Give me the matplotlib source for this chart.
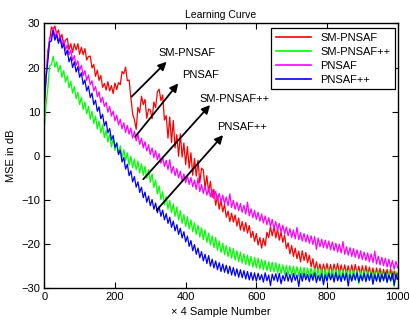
import numpy as np
import matplotlib
matplotlib.use("Agg")
import matplotlib.pyplot as plt

plt.rcParams['font.family'] = ['Liberation Sans', 'DejaVu Sans']

# sample index (x 4 samples), one value every 5
muestras = np.arange(0, 1001, 5)

sm_pnsaf = [
    10, 17.5, 23.8, 25.9, 29.2, 28.6, 29.4, 27.6, 28.5, 26.4,
    27.5, 25.1, 26.2, 26.6, 24.1, 25.4, 23.4, 25.4, 24.0, 25.4,
    23.0, 24.6, 22.9, 24.3, 21.7, 22.5, 22.6, 19.9, 20.7, 18.0,
    19.4, 17.1, 18.2, 15.5, 16.4, 14.9, 16.8, 14.7, 15.9, 14.1,
    16.5, 15.0, 16.6, 16.1, 19.1, 18.6, 20.1, 17.0, 17.2, 13.2,
    9.5, 8.2, 6.0, 11.0, 9.8, 13.5, 11.6, 12.8, 8.5, 10.6,
    10.4, 8.4, 12.2, 10.9, 14.5, 15.1, 12.5, 13.8, 8.1, 9.1,
    4.0, 8.8, 3.0, 8.0, 1.8, 4.8, -0.1, 5.0, -0.3, 2.9,
    -2.0, 2.1, -2.8, 0.7, -4.4, -0.6, -4.6, -1.0, -6.1, -2.8,
    -3.2, -7.4, -4.5, -8.2, -5.8, -9.4, -7.6, -11.2, -9.1, -12.1,
    -10.1, -12.7, -11.0, -13.9, -12.5, -14.9, -13.0, -15.0, -13.4, -15.9,
    -14.1, -16.8, -14.9, -17.1, -15.1, -17.5, -15.8, -18.5, -17.1, -19.4,
    -17.6, -20.2, -18.5, -20.9, -18.7, -20.4, -17.3, -18.5, -16.1, -18.1,
    -16.0, -18.6, -16.6, -19.1, -17.3, -19.6, -18.0, -21.0, -19.7, -22.2,
    -20.3, -22.8, -20.9, -23.3, -21.6, -24.0, -21.5, -23.7, -21.9, -24.2,
    -22.5, -25.1, -23.3, -25.9, -24.0, -26.2, -24.5, -26.6, -24.5, -26.3,
    -24.4, -26.5, -24.6, -26.7, -24.5, -26.3, -24.4, -26.7, -24.7, -26.6,
    -24.7, -26.8, -24.9, -26.9, -24.7, -26.7, -24.6, -26.8, -25.0, -27.0,
    -24.9, -27.0, -24.9, -27.1, -25.2, -27.3, -25.4, -27.6, -25.4, -27.2,
    -25.5, -27.7, -25.7, -27.7, -25.7, -27.7, -25.6, -27.9, -26.1, -28.0,
    -26.6,
]

sm_pnsaf_pp = [
    6, 11.6, 15.3, 20.4, 20.6, 22.6, 20.1, 21.3, 19.0, 20.5,
    17.8, 19.3, 16.7, 18.1, 15.4, 16.9, 14.2, 15.7, 12.9, 14.4,
    11.6, 13.3, 10.5, 12.2, 9.5, 11.2, 8.3, 10.1, 7.3, 9.0,
    6.1, 7.9, 5.2, 7.0, 4.1, 5.9, 3.1, 4.9, 2.0, 3.9,
    1.2, 3.0, 0.3, 2.3, -0.5, 1.4, -1.2, 0.7, -2.1, -0.1,
    -2.7, -0.7, -3.2, -1.2, -3.9, -1.8, -4.4, -2.4, -5.1, -3.1,
    -6.0, -4.1, -7.2, -5.5, -8.6, -6.8, -9.9, -8.1, -11.1, -9.2,
    -12.1, -10.1, -12.9, -10.9, -13.7, -11.6, -14.5, -12.4, -15.3, -13.3,
    -16.0, -13.8, -16.6, -14.5, -17.2, -15.1, -17.8, -15.7, -18.4, -16.3,
    -19.0, -16.8, -19.6, -17.5, -20.2, -18.1, -20.8, -18.5, -21.4, -19.3,
    -21.9, -19.8, -22.4, -20.3, -22.8, -20.7, -23.2, -21.0, -23.6, -21.5,
    -24.0, -21.8, -24.3, -22.2, -24.6, -22.5, -24.9, -22.8, -25.2, -23.0,
    -25.4, -23.2, -25.6, -23.5, -25.8, -23.7, -26.0, -24.0, -26.2, -24.1,
    -26.3, -24.2, -26.5, -24.5, -26.7, -24.7, -26.9, -24.8, -27.0, -24.9,
    -27.0, -25.0, -27.1, -25.1, -27.3, -25.2, -27.4, -25.3, -27.5, -25.4,
    -27.4, -25.4, -27.6, -25.5, -27.7, -25.5, -27.8, -25.6, -28.6, -25.6,
    -27.7, -25.6, -27.8, -25.7, -27.9, -25.7, -28.0, -25.8, -28.0, -25.8,
    -28.0, -25.8, -28.1, -25.9, -28.1, -25.9, -28.2, -25.9, -29.0, -26.0,
    -28.1, -26.0, -28.2, -26.0, -28.2, -26.0, -28.3, -26.1, -28.3, -26.1,
    -28.3, -26.1, -28.4, -26.1, -28.4, -26.2, -28.5, -26.2, -29.6, -26.2,
    -27.5,
]

pnsaf = [
    12, 18.6, 22.5, 26.8, 27.0, 29.1, 27.0, 28.0, 26.0, 27.2,
    25.0, 26.2, 24.0, 25.1, 22.9, 23.9, 21.6, 22.7, 20.5, 21.5,
    19.4, 20.5, 18.2, 19.3, 17.1, 18.3, 16.1, 17.0, 14.7, 15.7,
    13.4, 14.5, 12.1, 13.3, 11.2, 12.1, 9.9, 11.2, 9.0, 10.1,
    7.9, 9.2, 7.0, 8.3, 6.1, 7.5, 5.3, 6.9, 4.9, 6.3,
    4.0, 5.6, 3.4, 4.8, 2.6, 4.0, 1.8, 3.2, 1.1, 2.5,
    0.3, 1.8, -0.4, 1.2, -0.9, 0.5, -1.7, -0.3, -2.4, -1.0,
    -3.1, -0.9, -3.9, -2.4, -4.5, -2.9, -5.0, -3.5, -5.6, -4.1,
    -6.1, -4.5, -6.5, -4.9, -7.0, -5.5, -7.6, -5.0, -8.1, -6.5,
    -8.5, -6.9, -8.9, -7.3, -9.3, -7.7, -9.7, -8.1, -10.1, -8.5,
    -10.5, -8.9, -10.9, -9.3, -11.3, -8.6, -11.7, -10.1, -12.1, -10.5,
    -12.4, -10.8, -12.8, -11.2, -13.2, -10.5, -13.6, -12.0, -14.0, -12.4,
    -14.4, -12.8, -14.8, -13.2, -15.2, -13.6, -15.6, -14.0, -16.0, -14.4,
    -16.5, -14.9, -16.9, -15.3, -17.3, -15.7, -17.7, -16.1, -18.1, -16.5,
    -18.5, -16.8, -18.8, -16.2, -19.0, -17.4, -19.3, -17.6, -19.5, -17.9,
    -19.8, -18.1, -20.1, -18.3, -21.2, -18.6, -20.6, -18.9, -20.8, -19.1,
    -21.0, -19.3, -21.3, -19.5, -21.5, -19.8, -21.8, -20.0, -22.0, -19.4,
    -22.3, -20.6, -22.5, -20.8, -22.8, -21.0, -23.0, -21.3, -23.3, -21.5,
    -23.5, -21.8, -23.7, -22.0, -24.0, -22.2, -24.2, -21.6, -24.5, -22.7,
    -24.7, -23.0, -24.9, -23.2, -25.2, -23.4, -25.4, -23.7, -25.7, -23.9,
    -25.3,
]

pnsaf_pp = [
    12, 17.6, 21.3, 25.8, 26.0, 28.4, 26.2, 27.4, 25.5, 26.7,
    24.4, 25.3, 22.8, 23.9, 21.3, 22.4, 20.0, 21.3, 19.0, 20.2,
    17.8, 18.8, 16.2, 17.2, 14.7, 15.8, 13.2, 14.2, 11.6, 12.6,
    10.1, 11.1, 8.4, 9.4, 6.8, 7.8, 5.2, 6.2, 3.6, 4.6,
    1.9, 2.9, 0.3, 1.3, -1.4, -0.4, -3.0, -1.9, -4.5, -3.4,
    -5.9, -4.7, -7.1, -5.9, -8.3, -7.1, -9.5, -8.2, -10.5, -9.1,
    -11.3, -9.9, -12.1, -10.7, -12.9, -11.5, -13.7, -12.3, -14.5, -13.1,
    -15.3, -13.9, -16.2, -14.8, -17.0, -15.6, -17.8, -16.4, -18.6, -17.2,
    -19.5, -18.2, -20.5, -19.2, -21.5, -20.1, -22.3, -20.9, -23.1, -21.7,
    -23.8, -22.3, -24.4, -22.6, -25.0, -23.4, -25.4, -23.8, -25.8, -24.2,
    -26.2, -24.5, -26.4, -24.8, -26.7, -25.0, -27.0, -25.3, -27.2, -25.6,
    -27.5, -25.8, -27.6, -26.0, -27.9, -26.2, -28.1, -26.4, -28.2, -26.5,
    -28.4, -26.6, -28.1, -26.9, -28.6, -26.5, -28.3, -27.0, -29.4, -26.8,
    -28.2, -26.7, -28.5, -26.6, -29.0, -27.1, -28.3, -26.5, -28.4, -26.9,
    -28.6, -26.6, -28.2, -27.0, -29.6, -26.7, -28.4, -26.6, -28.1, -26.9,
    -28.5, -26.8, -28.2, -26.5, -28.7, -27.1, -28.3, -26.7, -29.2, -26.9,
    -28.4, -26.6, -28.1, -26.8, -28.6, -26.5, -28.3, -27.0, -28.5, -26.7,
    -28.2, -26.6, -29.5, -26.9, -28.4, -26.7, -28.1, -26.5, -28.6, -27.0,
    -28.3, -26.6, -28.5, -26.8, -28.2, -26.6, -29.1, -26.9, -28.4, -26.7,
    -28.6, -26.8, -28.2, -26.5, -28.7, -27.0, -28.3, -26.6, -29.3, -26.8,
    -28.0,
]

# arrow annotations: label, label position, arrow tail, arrow head
etiquetas = ["SM-PNSAF", "PNSAF", "SM-PNSAF++", "PNSAF++"]
pos_texto = [(322, 23.2), (389, 18.3), (440, 12.8), (488, 6.6)]
inicio_flecha = [(247, 13.4), (257, 4.3), (280, -5.3), (318, -12.3)]
fin_flecha = [(346, 21.3), (379, 16.4), (469, 11.5), (506, 4.7)]

fig = plt.figure(figsize=(4.1, 3.25), dpi=100)
ax = fig.add_axes([0.108, 0.113, 0.862, 0.815])

ax.plot(muestras, sm_pnsaf, color="#ff0000", lw=0.9, label="SM-PNSAF")
ax.plot(muestras, sm_pnsaf_pp, color="#00ff00", lw=0.9, label="SM-PNSAF++")
ax.plot(muestras, pnsaf, color="#ff00ff", lw=0.9, label="PNSAF")
ax.plot(muestras, pnsaf_pp, color="#0000ff", lw=0.9, label="PNSAF++")

for txt, pt, a, b in zip(etiquetas, pos_texto, inicio_flecha, fin_flecha):
    ax.annotate("", xy=b, xytext=a,
                arrowprops=dict(arrowstyle="-|>", color="k", lw=1.3,
                                mutation_scale=12, shrinkA=0, shrinkB=0))
    ax.text(pt[0], pt[1], txt, fontsize=8, va="center", ha="left")

ax.set_xlim(0, 1000)
ax.set_ylim(-30, 30)
ax.set_xticks(np.arange(0, 1001, 200))
ax.set_yticks(np.arange(-30, 31, 10))
ax.tick_params(direction="in", top=True, right=True, length=4, width=0.8,
               labelsize=8, pad=3)
for s in ax.spines.values():
    s.set_linewidth(1.0)

ax.set_title("Learning Curve", fontsize=7.5, pad=4)
ax.set_xlabel("\u00d7 4 Sample Number", fontsize=8, labelpad=3)
ax.set_ylabel("MSE in dB", fontsize=8, labelpad=4)

leg = ax.legend(loc="upper right", bbox_to_anchor=(0.992, 0.981), fontsize=8,
                fancybox=False, edgecolor="k", framealpha=1, borderaxespad=0,
                handlelength=3.2, labelspacing=0.35)
leg.get_frame().set_linewidth(0.9)
for ln in leg.get_lines():
    ln.set_linewidth(1.2)

fig.savefig("out.png", dpi=100)
